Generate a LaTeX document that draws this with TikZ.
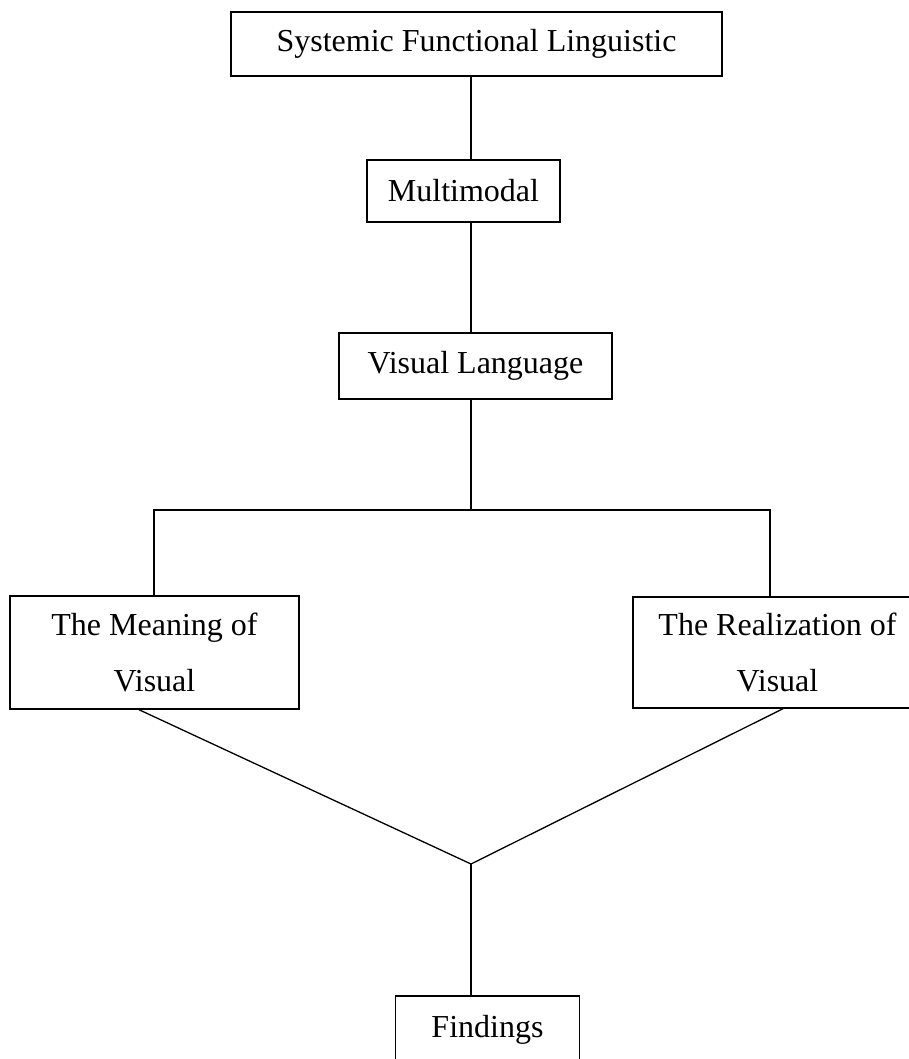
\documentclass[tikz,border=0pt]{standalone}
\usepackage{fontspec}
\setmainfont{Liberation Serif}
\begin{document}
\begin{tikzpicture}[x=1pt,y=-1pt,
  box/.style={draw,line width=1.4pt,inner sep=0pt,font=\fontsize{32}{56}\selectfont,align=center},
  link/.style={line width=1.3pt}]
\useasboundingbox (0,0) rectangle (909,1059);
\node[box,minimum width=491pt,minimum height=64pt] (slf) at (476.5,44) {Systemic Functional Linguistic};
\node[box,minimum width=193pt,minimum height=62pt] (mm) at (463.5,191) {Multimodal};
\node[box,minimum width=273pt,minimum height=66pt] (vl) at (475.5,366) {Visual Language};
\node[box,minimum width=289pt,minimum height=113pt] (mean) at (154.5,652.5) {The Meaning of\\Visual};
\node[box,minimum width=289pt,minimum height=111pt] (real) at (777.5,652.5) {The Realization of\\Visual};
\node[box,minimum width=184pt,minimum height=67pt] (find) at (487.5,1029.5) {Findings};
\coordinate (spine) at (471,0);
\coordinate (split) at (471,510);
\coordinate (sl) at (154,510);
\coordinate (sr) at (770,510);
\coordinate (ml) at (139,0);
\coordinate (mr) at (783,0);
\coordinate (join) at (471,864);
\draw[link] (slf.south -| spine) -- (mm.north -| spine);
\draw[link] (mm.south -| spine) -- (vl.north -| spine);
\draw[link] (vl.south -| spine) -- (split);
\draw[link] (mean.north -| sl) -- (sl) -- (sr) -- (real.north -| sr);
\draw[link] (mean.south -| ml) -- (join) -- (real.south -| mr);
\draw[link] (join) -- (find.north -| spine);
\end{tikzpicture}
\end{document}
